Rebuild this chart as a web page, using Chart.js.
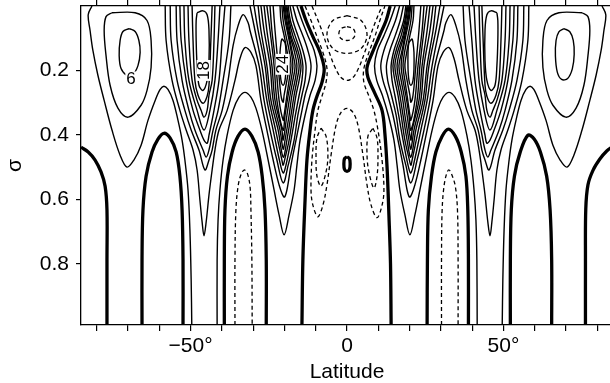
<!DOCTYPE html>
<html><head><meta charset="utf-8">
<script src="https://cdn.jsdelivr.net/npm/chart.js@4/dist/chart.umd.min.js"></script>
<style>html,body{margin:0;padding:0;overflow:hidden;background:#fff}#wrap{width:614px;height:383px;position:relative}</style>
</head><body><div id="wrap"><canvas id="c"></canvas></div>
<script>
// ---- axes ----
const latTicks = [-80,-70,-60,-50,-40,-30,-20,-10,0,10,20,30,40,50,60,70,80];
const latLabels = {'-50':'\u221250\u00b0','0':'0','50':'50\u00b0'};
const sigmaTicks = [0.2,0.4,0.6,0.8];
const contourLabels = [
  {text:'6', lat:-69.0, sigma:0.225, rot:0},
  {text:'18', lat:-45.8, sigma:0.200, rot:-90},
  {text:'24', lat:-20.6, sigma:0.181, rot:-90}
];
// ---- zero contours [lat, sigma] ----
const zeroL1 = [[-85,0.438],[-82.7,0.453],[-80.5,0.478],[-78.6,0.515],[-77.3,0.559],[-76.7,0.633],[-76.7,0.788],[-76.7,0.99]];
const zeroL2 = [[-65.5,0.99],[-65.5,0.788],[-65.2,0.633],[-64.2,0.528],[-62.3,0.453],[-60.4,0.413],[-58.5,0.395],[-56.5,0.410],[-54.6,0.453],[-53.4,0.528],[-52.7,0.633],[-52.4,0.788],[-52.4,0.99]];
const zeroL3 = [[-39.2,0.99],[-39.2,0.788],[-39.0,0.633],[-38.2,0.528],[-36.7,0.453],[-34.8,0.404],[-32.6,0.382],[-30.4,0.404],[-28.4,0.453],[-27.1,0.528],[-26.2,0.633],[-25.8,0.788],[-25.8,0.99]];
const zeroL4 = [[-14.7,0],[-13.1,0.045],[-10.9,0.095],[-8.6,0.144],[-7.3,0.194],[-8.0,0.237],[-9.6,0.280],[-10.9,0.324],[-11.8,0.385],[-12.8,0.478],[-13.4,0.602],[-14.1,0.788],[-14.4,0.99]];
const zeroEq = [[0,0.468],[0.8,0.474],[1.0,0.49],[0.8,0.507],[0,0.513],[-0.8,0.507],[-1.0,0.49],[-0.8,0.474],[0,0.468]];
const zeroR4 = [[13.8,0],[12.5,0.045],[10.5,0.09],[8.0,0.147],[6.4,0.191],[6.7,0.222],[8.9,0.271],[11.2,0.324],[12.1,0.395],[12.8,0.5],[13.4,0.65],[13.9,0.8],[14.1,0.99]];
const zeroR3 = [[25.6,0.99],[25.7,0.788],[26.0,0.633],[27.0,0.528],[28.4,0.453],[30.4,0.404],[32.4,0.382],[34.6,0.404],[36.5,0.453],[38.0,0.528],[38.6,0.633],[38.8,0.788],[38.8,0.99]];
const zeroR2 = [[52.2,0.99],[52.2,0.788],[52.5,0.633],[53.5,0.528],[55.3,0.455],[57.8,0.401],[59.8,0.413],[61.8,0.453],[63.8,0.528],[64.9,0.633],[65.4,0.788],[65.4,0.99]];
const zeroR1 = [[85,0.436],[83,0.45],[80.8,0.475],[78.6,0.51],[77,0.555],[76.3,0.63],[76.2,0.79],[76.2,0.99]];
// ---- negative (dashed) contours ----
const negL1 = [[-35.8,0.99],[-35.8,0.788],[-35.5,0.633],[-34.8,0.559],[-33.9,0.524],[-32.9,0.509],[-31.9,0.518],[-31.0,0.559],[-30.7,0.633],[-30.4,0.788],[-30.3,0.99]];
const negR1 = [[30.2,0.99],[30.2,0.788],[30.4,0.633],[31.0,0.559],[31.9,0.518],[32.6,0.509],[33.5,0.524],[34.6,0.559],[35.3,0.633],[35.5,0.788],[35.5,0.99]];
const negEq1 = [[0,0.064],[1.9,0.07],[2.6,0.086],[1.9,0.101],[0,0.107],[-1.9,0.101],[-2.6,0.086],[-1.9,0.07],[0,0.064]];
const negEq2 = [[0,0.030],[4.5,0.045],[6.4,0.089],[4.5,0.132],[0,0.147],[-4.5,0.132],[-6.4,0.089],[-4.5,0.045],[0,0.030]];
const negEq3 = [[-11.2,0],[-8.6,0.061],[-6.1,0.132],[-3.8,0.191],[-1.9,0.222],[0,0.231],[1.9,0.222],[3.8,0.191],[6.1,0.132],[8.6,0.061],[11.2,0]];
const negEq4 = [[-13.4,0],[-11.5,0.045],[-9.6,0.095],[-7.7,0.144],[-6.4,0.194],[-6.7,0.237],[-8.0,0.280],[-9.3,0.324],[-10.2,0.385],[-11.2,0.478],[-11.5,0.571],[-10.9,0.618],[-9.3,0.654],[-7.7,0.618],[-6.4,0.555],[-5.1,0.463],[-3.5,0.370],[-1.9,0.330],[0,0.318],[1.9,0.330],[3.5,0.370],[5.1,0.463],[6.4,0.555],[7.7,0.618],[9.6,0.657],[11.2,0.618],[11.8,0.571],[11.2,0.478],[9.9,0.385],[8.6,0.324],[7.0,0.280],[5.4,0.237],[5.4,0.194],[7.0,0.144],[8.9,0.095],[10.5,0.045],[12.1,0]];
const negL2 = [[-8.3,0.379],[-6.7,0.404],[-6.1,0.463],[-6.7,0.515],[-8.3,0.559],[-9.6,0.528],[-9.9,0.463],[-9.6,0.410],[-8.3,0.379]];
const negR2 = [[8.3,0.379],[9.6,0.410],[9.9,0.463],[9.6,0.528],[8.6,0.565],[7.0,0.515],[6.4,0.463],[6.7,0.404],[8.3,0.379]];
// ---- positive contours, southern half ----
const posL_pol1 = [[-69.6,0.070],[-67.7,0.079],[-66.5,0.107],[-66.1,0.144],[-66.8,0.185],[-68.4,0.212],[-70.3,0.215],[-72.2,0.194],[-72.8,0.154],[-72.5,0.107],[-71.6,0.079],[-69.6,0.070]];
const posL_pol2 = [[-75.1,0.021],[-67.7,0.021],[-63.9,0.045],[-62.6,0.107],[-62.6,0.191],[-63.9,0.262],[-65.8,0.308],[-69.9,0.345],[-73.2,0.317],[-75.7,0.246],[-77.0,0.154],[-77.6,0.076],[-77.0,0.033],[-75.1,0.021]];
const posL_a = [[-81.5,0],[-82.7,0.027],[-82.1,0.076],[-81.2,0.138],[-79.6,0.215],[-77.6,0.293],[-75.1,0.385],[-72.5,0.463],[-70.3,0.5],[-68.1,0.478],[-65.8,0.432],[-63.6,0.355],[-61.3,0.293],[-59.7,0.259],[-58.5,0.249],[-57.2,0.259],[-55.6,0.293],[-54.0,0.355],[-52.7,0.416],[-51.8,0.478],[-50.8,0.571],[-50.2,0.694],[-49.8,0.849],[-49.6,0.99]];
const posL_b = [[-41.5,0.99],[-41.5,0.788],[-41.2,0.664],[-40.6,0.571],[-39.6,0.478],[-38.3,0.401],[-36.4,0.324],[-34.5,0.283],[-32.6,0.268],[-30.7,0.283],[-29.1,0.317],[-27.2,0.385],[-25.2,0.478],[-23.3,0.571],[-21.7,0.648],[-20.1,0.710],[-18.5,0.648],[-16.9,0.571],[-16.0,0.494],[-15.0,0.416],[-13.4,0.339],[-11.8,0.277],[-10.2,0.231],[-9.6,0.185],[-10.5,0.138],[-12.5,0.092],[-14.4,0.045],[-16.0,0]];
const posL_4 = [[-58.1,0],[-57.8,0.107],[-55.9,0.231],[-53.4,0.324],[-51.4,0.385],[-49.2,0.447],[-47.9,0.509],[-47.0,0.602],[-46.3,0.670],[-45.7,0.713],[-45.0,0.670],[-44.1,0.586],[-43.1,0.509],[-42.2,0.447],[-40.9,0.385],[-38.3,0.324],[-35.8,0.231],[-34.2,0.163],[-32.6,0.129],[-30.7,0.144],[-29.1,0.185],[-27.5,0.293],[-25.6,0.385],[-23.6,0.478],[-21.7,0.555],[-20.1,0.593],[-19.2,0.571],[-17.9,0.494],[-16.3,0.416],[-14.7,0.339],[-13.4,0.277],[-12.1,0.231],[-11.5,0.185],[-12.5,0.138],[-14.1,0.092],[-16.0,0.045],[-17.3,0]];
const posL_6 = [[-56.5,0],[-56.2,0.107],[-54.3,0.231],[-51.8,0.324],[-49.8,0.385],[-47.3,0.447],[-45.4,0.509],[-44.1,0.478],[-43.1,0.447],[-41.9,0.385],[-39.9,0.324],[-38.0,0.231],[-36.4,0.123],[-34.8,0.061],[-33.2,0.027],[-31.6,0.052],[-31.0,0.076],[-28.1,0.185],[-26.5,0.293],[-24.6,0.385],[-22.4,0.478],[-20.4,0.549],[-18.8,0.494],[-16.9,0.416],[-15.7,0.339],[-14.4,0.277],[-13.4,0.231],[-13.1,0.185],[-14.1,0.138],[-15.7,0.092],[-17.3,0.045],[-18.2,0]];
const posL_m8 = [[-54.6,0],[-54.3,0.107],[-52.7,0.231],[-50.5,0.324],[-48.6,0.385],[-46.0,0.447],[-45.0,0.469],[-44.1,0.447],[-42.8,0.385],[-41.2,0.324],[-39.6,0.231],[-37.7,0.107],[-37.1,0]];
const posL_m10 = [[-53.4,0],[-53.0,0.107],[-51.4,0.231],[-49.2,0.324],[-47.0,0.385],[-45.7,0.416],[-44.7,0.426],[-44.1,0.401],[-42.5,0.324],[-40.9,0.231],[-39.9,0.107],[-39.0,0]];
const posL_m12 = [[-52.1,0],[-51.8,0.107],[-50.5,0.231],[-47.9,0.324],[-45.7,0.385],[-43.8,0.324],[-42.2,0.231],[-41.2,0.107],[-40.6,0]];
const posL_m14 = [[-50.8,0],[-50.5,0.107],[-49.5,0.231],[-47.9,0.293],[-46.6,0.324],[-45.7,0.345],[-44.7,0.324],[-44.1,0.277],[-43.1,0.231],[-42.5,0.107],[-42.2,0]];
const posL_m16 = [[-49.5,0],[-49.2,0.107],[-48.6,0.231],[-47.6,0.277],[-46.0,0.302],[-44.7,0.280],[-44.1,0.246],[-43.5,0.107],[-43.1,0]];
const posL_m18 = [[-47.9,0.021],[-46.0,0.015],[-44.7,0.027],[-44.1,0.076],[-44.1,0.169],[-44.7,0.231],[-46.0,0.262],[-47.3,0.246],[-47.9,0.185],[-48.2,0.107],[-48.2,0.045],[-47.9,0.021]];
const posL_s8 = [[-31.0,0],[-29.4,0.076],[-27.2,0.185],[-25.6,0.293],[-23.6,0.385],[-21.6,0.478],[-20.4,0.518],[-19.5,0.494],[-17.9,0.416],[-16.5,0.339],[-15.3,0.277],[-14.4,0.231],[-14.1,0.185],[-15.0,0.138],[-16.6,0.092],[-18.1,0.045],[-18.8,0]];
const posL_s10 = [[-29.7,0],[-28.4,0.076],[-26.2,0.185],[-24.9,0.293],[-22.8,0.385],[-20.8,0.478],[-20.4,0.494],[-19.8,0.472],[-18.5,0.416],[-17.3,0.339],[-16.3,0.277],[-15.3,0.231],[-14.7,0.185],[-15.7,0.138],[-17.3,0.092],[-18.5,0.045],[-19.2,0]];
const posL_s12 = [[-28.4,0],[-27.5,0.076],[-25.6,0.185],[-24.3,0.293],[-22.0,0.385],[-20.4,0.469],[-19.2,0.416],[-17.9,0.339],[-16.9,0.277],[-16.0,0.231],[-15.3,0.185],[-16.3,0.138],[-17.9,0.092],[-18.8,0.045],[-19.5,0]];
const posL_s14 = [[-27.5,0],[-26.5,0.076],[-24.6,0.185],[-23.6,0.293],[-21.4,0.385],[-20.4,0.444],[-19.8,0.416],[-18.5,0.339],[-17.6,0.277],[-16.6,0.231],[-16.0,0.185],[-16.9,0.138],[-18.2,0.092],[-19.2,0.045],[-19.8,0]];
const posL_s16 = [[-26.5,0],[-25.6,0.076],[-24.0,0.185],[-23.0,0.293],[-20.8,0.385],[-20.4,0.416],[-19.2,0.339],[-18.2,0.277],[-17.3,0.231],[-16.6,0.185],[-17.6,0.138],[-18.5,0.092],[-19.5,0.045],[-20.1,0]];
const posL_s18 = [[-25.6,0],[-24.6,0.076],[-23.3,0.185],[-22.4,0.293],[-20.4,0.385],[-19.8,0.339],[-18.8,0.277],[-17.9,0.231],[-17.3,0.185],[-17.9,0.138],[-18.8,0.092],[-19.8,0.045],[-20.4,0]];
const posL_s20 = [[-24.6,0],[-24.0,0.076],[-22.7,0.185],[-21.7,0.293],[-20.4,0.355],[-20.1,0.339],[-19.2,0.277],[-18.5,0.231],[-17.9,0.185],[-18.5,0.138],[-19.5,0.092],[-20.4,0.045],[-20.8,0]];
const posL_s22 = [[-23.6,0],[-23.0,0.076],[-22.0,0.185],[-21.1,0.277],[-20.4,0.299],[-20.1,0.277],[-19.2,0.231],[-18.5,0.185],[-19.2,0.138],[-20.1,0.092],[-21.1,0.045],[-21.4,0]];
const posL_s24 = [[-20.8,0.101],[-19.8,0.114],[-19.5,0.144],[-19.5,0.194],[-19.8,0.231],[-20.4,0.246],[-21.1,0.231],[-21.4,0.194],[-21.4,0.144],[-21.1,0.114],[-20.8,0.101]];
// ---- positive contours, northern half ----
const posR_pol1 = [[69.3,0.07],[71.2,0.08],[72.3,0.107],[72.6,0.15],[72.0,0.195],[70.5,0.225],[68.6,0.228],[67.2,0.205],[66.6,0.155],[66.8,0.107],[67.7,0.08],[69.3,0.07]];
const posR_pol2 = [[75.1,0.021],[77.0,0.033],[77.6,0.076],[77.0,0.154],[75.7,0.246],[73.2,0.317],[69.9,0.345],[65.8,0.308],[63.9,0.262],[62.6,0.191],[62.6,0.107],[63.9,0.045],[67.7,0.021],[75.1,0.021]];
const posR_a = [[49.6,0.99],[49.8,0.849],[50.2,0.694],[50.8,0.571],[51.8,0.478],[52.7,0.416],[54.0,0.355],[55.6,0.293],[57.2,0.259],[58.5,0.249],[59.7,0.259],[61.3,0.293],[63.6,0.355],[65.8,0.432],[68.1,0.478],[70.3,0.5],[72.5,0.463],[75.1,0.385],[77.6,0.293],[79.6,0.215],[81.2,0.138],[82.1,0.076],[82.7,0.027],[81.5,0]];
const posR_b = [[41.6,0.99],[41.5,0.788],[41.2,0.664],[40.6,0.571],[39.6,0.478],[38.3,0.401],[36.4,0.324],[34.5,0.283],[32.6,0.268],[30.7,0.283],[29.1,0.317],[27.2,0.385],[25.2,0.478],[23.3,0.571],[21.7,0.648],[20.1,0.710],[18.5,0.648],[16.9,0.571],[16.0,0.494],[15.0,0.416],[13.2,0.339],[11.3,0.277],[9.5,0.231],[8.8,0.185],[9.7,0.138],[11.8,0.092],[13.8,0.045],[15.4,0]];
const posR_4 = [[58.1,0],[57.8,0.107],[55.9,0.231],[53.4,0.324],[51.4,0.385],[49.2,0.447],[47.9,0.509],[47.0,0.602],[46.3,0.670],[45.7,0.713],[45.0,0.670],[44.1,0.586],[43.1,0.509],[42.2,0.447],[40.9,0.385],[38.3,0.324],[35.8,0.231],[34.2,0.163],[32.6,0.129],[30.7,0.144],[29.1,0.185],[27.5,0.293],[25.6,0.385],[23.6,0.478],[21.7,0.555],[20.1,0.593],[19.2,0.571],[17.9,0.494],[16.3,0.416],[14.7,0.339],[13.0,0.277],[11.5,0.231],[10.8,0.185],[11.8,0.138],[13.6,0.092],[15.5,0.045],[16.8,0]];
const posR_6 = [[56.5,0],[56.2,0.107],[54.3,0.231],[51.8,0.324],[49.8,0.385],[47.3,0.447],[45.4,0.509],[44.1,0.478],[43.1,0.447],[41.9,0.385],[39.9,0.324],[38.0,0.231],[36.4,0.123],[34.8,0.061],[33.2,0.027],[31.6,0.052],[31.0,0.076],[28.1,0.185],[26.5,0.293],[24.6,0.385],[22.4,0.478],[20.4,0.549],[18.8,0.494],[16.9,0.416],[15.7,0.339],[14.2,0.277],[13.0,0.231],[12.6,0.185],[13.7,0.138],[15.4,0.092],[17.0,0.045],[18.0,0]];
const posR_m8 = [[54.6,0],[54.3,0.107],[52.7,0.231],[50.5,0.324],[48.6,0.385],[46.0,0.447],[45.0,0.469],[44.1,0.447],[42.8,0.385],[41.2,0.324],[39.6,0.231],[37.7,0.107],[37.1,0]];
const posR_m10 = [[53.4,0],[53.0,0.107],[51.4,0.231],[49.2,0.324],[47.0,0.385],[45.7,0.416],[44.7,0.426],[44.1,0.401],[42.5,0.324],[40.9,0.231],[39.9,0.107],[39.0,0]];
const posR_m12 = [[52.1,0],[51.8,0.107],[50.5,0.231],[47.9,0.324],[45.7,0.385],[43.8,0.324],[42.2,0.231],[41.2,0.107],[40.6,0]];
const posR_m14 = [[50.8,0],[50.5,0.107],[49.5,0.231],[47.9,0.293],[46.6,0.324],[45.7,0.345],[44.7,0.324],[44.1,0.277],[43.1,0.231],[42.5,0.107],[42.2,0]];
const posR_m16 = [[49.5,0],[49.2,0.107],[48.6,0.231],[47.6,0.277],[46.0,0.302],[44.7,0.280],[44.1,0.246],[43.5,0.107],[43.1,0]];
const posR_m18 = [[47.9,0.021],[46.0,0.015],[44.7,0.027],[44.1,0.076],[44.1,0.169],[44.7,0.231],[46.0,0.262],[47.3,0.246],[47.9,0.185],[48.2,0.107],[48.2,0.045],[47.9,0.021]];
const posR_s8 = [[31.0,0],[29.4,0.076],[27.2,0.185],[25.6,0.293],[23.6,0.385],[21.6,0.478],[20.4,0.518],[19.5,0.494],[17.9,0.416],[16.5,0.339],[15.3,0.277],[14.4,0.231],[14.1,0.185],[15.0,0.138],[16.6,0.092],[18.1,0.045],[18.8,0]];
const posR_s10 = [[29.7,0],[28.4,0.076],[26.2,0.185],[24.9,0.293],[22.8,0.385],[20.8,0.478],[20.4,0.494],[19.8,0.472],[18.5,0.416],[17.3,0.339],[16.3,0.277],[15.3,0.231],[14.7,0.185],[15.7,0.138],[17.3,0.092],[18.5,0.045],[19.2,0]];
const posR_s12 = [[28.4,0],[27.5,0.076],[25.6,0.185],[24.3,0.293],[22.0,0.385],[20.4,0.469],[19.2,0.416],[17.9,0.339],[16.9,0.277],[16.0,0.231],[15.3,0.185],[16.3,0.138],[17.9,0.092],[18.8,0.045],[19.5,0]];
const posR_s14 = [[27.5,0],[26.5,0.076],[24.6,0.185],[23.6,0.293],[21.4,0.385],[20.4,0.444],[19.8,0.416],[18.5,0.339],[17.6,0.277],[16.6,0.231],[16.0,0.185],[16.9,0.138],[18.2,0.092],[19.2,0.045],[19.8,0]];
const posR_s16 = [[26.5,0],[25.6,0.076],[24.0,0.185],[23.0,0.293],[20.8,0.385],[20.4,0.416],[19.2,0.339],[18.2,0.277],[17.3,0.231],[16.6,0.185],[17.6,0.138],[18.5,0.092],[19.5,0.045],[20.1,0]];
const posR_s18 = [[25.6,0],[24.6,0.076],[23.3,0.185],[22.4,0.293],[20.4,0.385],[19.8,0.339],[18.8,0.277],[17.9,0.231],[17.3,0.185],[17.9,0.138],[18.8,0.092],[19.8,0.045],[20.4,0]];
const posR_s20 = [[24.6,0],[24.0,0.076],[22.7,0.185],[21.7,0.293],[20.4,0.355],[20.1,0.339],[19.2,0.277],[18.5,0.231],[17.9,0.185],[18.5,0.138],[19.5,0.092],[20.4,0.045],[20.8,0]];
const posR_s22 = [[23.6,0],[23.0,0.076],[22.0,0.185],[21.1,0.277],[20.4,0.299],[20.1,0.277],[19.2,0.231],[18.5,0.185],[19.2,0.138],[20.1,0.092],[21.1,0.045],[21.4,0]];
const posR_s24 = [[20.8,0.101],[19.8,0.114],[19.5,0.144],[19.5,0.194],[19.8,0.231],[20.4,0.246],[21.1,0.231],[21.4,0.194],[21.4,0.144],[21.1,0.114],[20.8,0.101]];

const thickLines = [zeroL1,zeroL2,zeroL3,zeroL4,zeroEq,zeroR4,zeroR3,zeroR2,zeroR1];
const dashedLines = [negL1,negR1,negEq1,negEq2,negEq3,negEq4,negL2,negR2];
const thinLines = [posL_pol1,posL_pol2,posL_a,posL_b,posL_4,posL_6,posL_m8,posL_m10,posL_m12,posL_m14,posL_m16,posL_m18,
  posL_s8,posL_s10,posL_s12,posL_s14,posL_s16,posL_s18,posL_s20,posL_s22,posL_s24,
  posR_pol1,posR_pol2,posR_a,posR_b,posR_4,posR_6,posR_m8,posR_m10,posR_m12,posR_m14,posR_m16,posR_m18,
  posR_s8,posR_s10,posR_s12,posR_s14,posR_s16,posR_s18,posR_s20,posR_s22,posR_s24];

const FONT = "'Liberation Sans', Arial, Helvetica, sans-serif";
const toXY = a => a.map(p => ({x:p[0], y:p[1]}));
const mk = (arr, w, dash) => ({data: toXY(arr), showLine:true, pointRadius:0, borderColor:'#000', borderWidth:w, borderDash:dash||[], tension:0.35, fill:false});
const datasets = [
  ...thinLines.map(a => mk(a, 1.4)),
  ...dashedLines.map(a => mk(a, 1.3, [4,3])),
  ...thickLines.map(a => mk(a, 3.3))
];

const labelPlugin = {
  id:'contourLabels',
  afterDatasetsDraw(chart){
    const ctx = chart.ctx, xs = chart.scales.x, ys = chart.scales.y;
    ctx.save();
    ctx.font = "17px " + FONT;
    ctx.textAlign = 'center'; ctx.textBaseline = 'middle';
    contourLabels.forEach(l => {
      const px = xs.getPixelForValue(l.lat), py = ys.getPixelForValue(l.sigma);
      ctx.save(); ctx.translate(px, py); ctx.rotate(l.rot*Math.PI/180);
      const w = ctx.measureText(l.text).width;
      ctx.fillStyle = '#fff'; ctx.fillRect(-w/2-1, -7, w+2, 14);
      ctx.fillStyle = '#000'; ctx.fillText(l.text, 0, 1);
      ctx.restore();
    });
    ctx.restore();
  }
};

const noPad = s => { s.paddingTop = 0; s.paddingBottom = 0; s.paddingLeft = 0; s.paddingRight = 0; };
const gridOpts = {drawOnChartArea:false, drawTicks:true, tickLength:6, color:'#000', tickColor:'#000', lineWidth:1.2};
new Chart(document.getElementById('c'), {
  type:'scatter',
  data:{datasets},
  options:{
    responsive:true, maintainAspectRatio:false, animation:false, devicePixelRatio:1,
    layout:{padding:{left:0,right:1,top:0,bottom:0}},
    plugins:{legend:{display:false}, tooltip:{enabled:false}},
    scales:{
      x:{type:'linear', position:'bottom', min:-85, max:85,
        afterBuildTicks:s=>{s.ticks = latTicks.map(v=>({value:v}));},
        ticks:{callback:v=>latLabels[String(v)] ?? '', font:{family:FONT,size:21}, color:'#000', padding:3, maxRotation:0, autoSkip:false},
        grid:gridOpts, border:{display:true,color:'#000',width:1.3},
        title:{display:true, text:'Latitude', font:{family:FONT,size:21}, color:'#000', padding:{top:0,bottom:-2}},
        afterFit:s=>{s.height = 58; noPad(s);}},
      x2:{type:'linear', position:'top', min:-85, max:85,
        afterBuildTicks:s=>{s.ticks = latTicks.map(v=>({value:v}));},
        ticks:{display:false}, grid:gridOpts, border:{display:true,color:'#000',width:1.3},
        afterFit:s=>{s.height = 6; noPad(s);}},
      y:{type:'linear', position:'left', reverse:true, min:0, max:0.99,
        afterBuildTicks:s=>{s.ticks = sigmaTicks.map(v=>({value:v}));},
        ticks:{callback:v=>v.toFixed(1), font:{family:FONT,size:21}, color:'#000', padding:7},
        grid:Object.assign({}, gridOpts, {tickLength:5}), border:{display:true,color:'#000',width:1.3},
        title:{display:true, text:'\u03c3', font:{family:FONT,size:21}, color:'#000', padding:{top:3,bottom:0}},
        afterFit:s=>{s.width = 81; noPad(s);}}
    }
  },
  plugins:[labelPlugin]
});
</script></body></html>
